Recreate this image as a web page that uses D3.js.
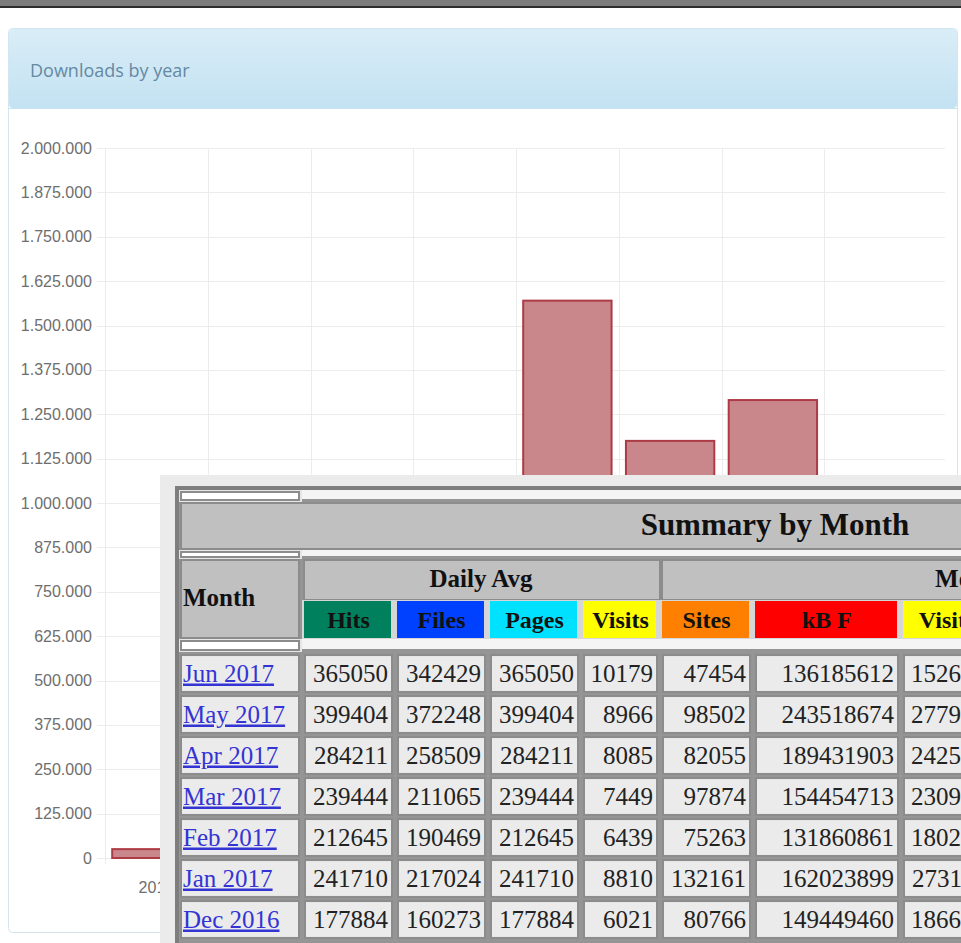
<!DOCTYPE html>
<html>
<head>
<meta charset="utf-8">
<script src="https://cdn.jsdelivr.net/npm/d3@7"></script>
<style>
  body { margin: 0; background: #fff; }
  svg { display: block; }
</style>
</head>
<body>
<div id="chart"></div>
<script>
// ---- chart data ----
const years = ["2010", "2011", "2012", "2013", "2014", "2015", "2016", "2017"];
const downloads = [25000, 180000, 420000, 760000, 1570000, 1175000, 1290000, 610000];
const yTickValues = [0, 125000, 250000, 375000, 500000, 625000, 750000, 875000, 1000000,
  1125000, 1250000, 1375000, 1500000, 1625000, 1750000, 1875000, 2000000];

// ---- table data (Summary by Month) ----
const months = ["Jun 2017", "May 2017", "Apr 2017", "Mar 2017", "Feb 2017", "Jan 2017", "Dec 2016"];
const dailyHits = [365050, 399404, 284211, 239444, 212645, 241710, 177884];
const dailyFiles = [342429, 372248, 258509, 211065, 190469, 217024, 160273];
const dailyPages = [365050, 399404, 284211, 239444, 212645, 241710, 177884];
const dailyVisits = [10179, 8966, 8085, 7449, 6439, 8810, 6021];
const totalSites = [47454, 98502, 82055, 97874, 75263, 132161, 80766];
const totalKBF = [136185612, 243518674, 189431903, 154454713, 131860861, 162023899, 149449460];
const totalVisits = [152685, 277946, 242550, 230919, 180292, 273110, 186651];
const dailyHeads = ["Hits", "Files", "Pages", "Visits"];
const totalHeads = ["Sites", "kB F", "Visits"];

const W = 961, H = 943;
const serif = "'Liberation Serif', 'Times New Roman', serif";

const svg = d3.select("#chart")
  .append("svg")
  .attr("width", W)
  .attr("height", H);

// top strip of the page
svg.append("rect").attr("x", 0).attr("y", 0).attr("width", W).attr("height", 6).attr("fill", "#7c7c7c");
svg.append("rect").attr("x", 0).attr("y", 6).attr("width", W).attr("height", 2).attr("fill", "#2c2c2c");

// panel
const grad = svg.append("defs").append("linearGradient")
  .attr("id", "hdr").attr("x1", 0).attr("y1", 0).attr("x2", 0).attr("y2", 1);
grad.append("stop").attr("offset", "0%").attr("stop-color", "#d9edf7");
grad.append("stop").attr("offset", "100%").attr("stop-color", "#c3e2f2");

svg.append("rect")
  .attr("x", 8.5).attr("y", 28.5).attr("width", 949).attr("height", 904).attr("rx", 4)
  .attr("fill", "#fff").attr("stroke", "#d3e6ef");
svg.append("rect")
  .attr("x", 9).attr("y", 29).attr("width", 948).attr("height", 79).attr("rx", 4)
  .attr("fill", "url(#hdr)");
svg.append("line")
  .attr("x1", 9).attr("x2", 957).attr("y1", 108.5).attr("y2", 108.5)
  .attr("stroke", "#c6e3ef");
svg.append("text")
  .attr("x", 30).attr("y", 77)
  .style("font-family", "'Open Sans', sans-serif")
  .style("font-size", "18px")
  .attr("fill", "#6689a2")
  .text("Downloads by year");

// scales
const x = d3.scaleBand()
  .domain(years)
  .range([105, 927])
  .paddingInner(0.14)
  .paddingOuter(0.07);

const y = d3.scaleLinear()
  .domain([0, 2000000])
  .range([858, 148]);

const fmt = d3.formatLocale({ decimal: ",", thousands: ".", grouping: [3], currency: ["", ""] }).format(",d");

// grid
const grid = svg.append("g").attr("stroke", "#ececec").attr("stroke-width", 1);
grid.selectAll("line.h")
  .data(yTickValues)
  .join("line")
  .attr("class", "h")
  .attr("x1", 97).attr("x2", 945)
  .attr("y1", d => Math.round(y(d)) + 0.5)
  .attr("y2", d => Math.round(y(d)) + 0.5);
grid.selectAll("line.v")
  .data(years)
  .join("line")
  .attr("class", "v")
  .attr("x1", d => Math.round(x(d) - x.paddingOuter() * x.step()) + 0.5)
  .attr("x2", d => Math.round(x(d) - x.paddingOuter() * x.step()) + 0.5)
  .attr("y1", 148).attr("y2", 864);

// y labels
svg.append("g")
  .selectAll("text")
  .data(yTickValues)
  .join("text")
  .attr("x", 92)
  .attr("y", d => y(d))
  .attr("dy", "0.35em")
  .attr("text-anchor", "end")
  .style("font-family", "'Liberation Sans', Arial, sans-serif")
  .style("font-size", "16px")
  .attr("fill", "#6e6e6e")
  .text(d => fmt(d));

// x labels
svg.append("g")
  .selectAll("text")
  .data(years)
  .join("text")
  .attr("x", d => x(d) + x.bandwidth() / 2)
  .attr("y", 893)
  .attr("text-anchor", "middle")
  .style("font-family", "'Liberation Sans', Arial, sans-serif")
  .style("font-size", "16px")
  .attr("fill", "#6e6e6e")
  .text(d => d);

// bars
svg.append("g")
  .selectAll("rect")
  .data(years)
  .join("rect")
  .attr("x", d => x(d))
  .attr("y", (d, i) => y(downloads[i]))
  .attr("width", x.bandwidth())
  .attr("height", (d, i) => y(0) - y(downloads[i]))
  .attr("fill", "#c9878b")
  .attr("stroke", "#ad3b46")
  .attr("stroke-width", 2);

// ---- overlaid table ----
const tbl = svg.append("g");
tbl.append("rect").attr("x", 160).attr("y", 475).attr("width", W - 160).attr("height", H - 475).attr("fill", "#ebebeb");
tbl.append("rect").attr("x", 175).attr("y", 486).attr("width", 1300).attr("height", 500).attr("fill", "#7e7e7e");
tbl.append("rect").attr("x", 179).attr("y", 490).attr("width", 1300).attr("height", 500).attr("fill", "#959595");

function cell(x0, y0, w, h, fill) {
  tbl.append("rect")
    .attr("x", x0 + 1).attr("y", y0 + 1)
    .attr("width", w - 2).attr("height", h - 2)
    .attr("fill", fill)
    .attr("stroke", "#8c8c8c")
    .attr("stroke-width", 2);
}

// column layout (x, width) of month + 7 value columns
const colX = [180, 304, 397, 490, 583, 662, 755, 903];
const colW = [120, 89, 89, 89, 75, 89, 144, 88];
const headColors = ["#00805c", "#0040ff", "#00e0ff", "#ffff00", "#ff8000", "#ff0000", "#ffff00"];

// separator rows
[[490, 12], [550, 9], [639, 13]].forEach(([sy, sh]) => {
  tbl.append("rect").attr("x", 302).attr("y", sy).attr("width", 1200).attr("height", sh - 3).attr("fill", "#f4f4f4");
  tbl.append("rect").attr("x", 179).attr("y", sy).attr("width", 123).attr("height", sh).attr("fill", "#e6e6e6");
  cell(180, sy + 1, 120, sh - 2, "#ffffff");
});

// title row
cell(180, 502, 1190, 48, "#c0c0c0");
tbl.append("text")
  .attr("x", 775).attr("y", 535)
  .attr("text-anchor", "middle")
  .style("font-family", serif).style("font-size", "31px").style("font-weight", "bold")
  .attr("fill", "#111")
  .text("Summary by Month");

// header rows
cell(180, 559, 120, 80, "#c0c0c0");
tbl.append("text")
  .attr("x", 183).attr("y", 606)
  .style("font-family", serif).style("font-size", "25px").style("font-weight", "bold")
  .attr("fill", "#111")
  .text("Month");
cell(303, 559, 358, 42, "#c0c0c0");
cell(661, 559, 708, 42, "#c0c0c0");
tbl.append("text")
  .attr("x", 481).attr("y", 587).attr("text-anchor", "middle")
  .style("font-family", serif).style("font-size", "25px").style("font-weight", "bold")
  .attr("fill", "#111").text("Daily Avg");
tbl.append("text")
  .attr("x", 1016).attr("y", 587).attr("text-anchor", "middle")
  .style("font-family", serif).style("font-size", "25px").style("font-weight", "bold")
  .attr("fill", "#111").text("Monthly Totals");

const heads = dailyHeads.concat(totalHeads);
tbl.append("rect").attr("x", 302).attr("y", 600).attr("width", 1200).attr("height", 39).attr("fill", "#d6d6d6");
heads.forEach((h, i) => {
  const c = i + 1;
  tbl.append("rect")
    .attr("x", colX[c]).attr("y", 601).attr("width", colW[c] - 2).attr("height", 37)
    .attr("fill", headColors[i]);
  tbl.append("text")
    .attr("x", colX[c] + colW[c] / 2).attr("y", 628).attr("text-anchor", "middle")
    .style("font-family", serif).style("font-size", "24px").style("font-weight", "bold")
    .attr("fill", "#111").text(h);
});

// data rows
const row = d3.scaleBand()
  .domain(months)
  .range([653, 940])
  .paddingInner(0.1)
  .paddingOuter(0.05);

const columns = [dailyHits, dailyFiles, dailyPages, dailyVisits, totalSites, totalKBF, totalVisits];

months.forEach((m, r) => {
  const ry = row(m) - 1, rh = row.bandwidth() + 2;
  cell(colX[0], ry, colW[0], rh, "#ebebeb");
  tbl.append("text")
    .attr("x", colX[0] + 3).attr("y", row(m) + row.bandwidth() / 2 + 8)
    .style("font-family", serif).style("font-size", "25px")
    .style("text-decoration", "underline")
    .attr("fill", "#3434d4")
    .text(m);
  columns.forEach((col, i) => {
    const c = i + 1;
    cell(colX[c], ry, colW[c], rh, "#ebebeb");
    tbl.append("text")
      .attr("x", colX[c] + colW[c] - 5).attr("y", row(m) + row.bandwidth() / 2 + 8)
      .attr("text-anchor", "end")
      .style("font-family", serif).style("font-size", "25px")
      .attr("fill", "#222")
      .text(col[r]);
  });
});
</script>
</body>
</html>
